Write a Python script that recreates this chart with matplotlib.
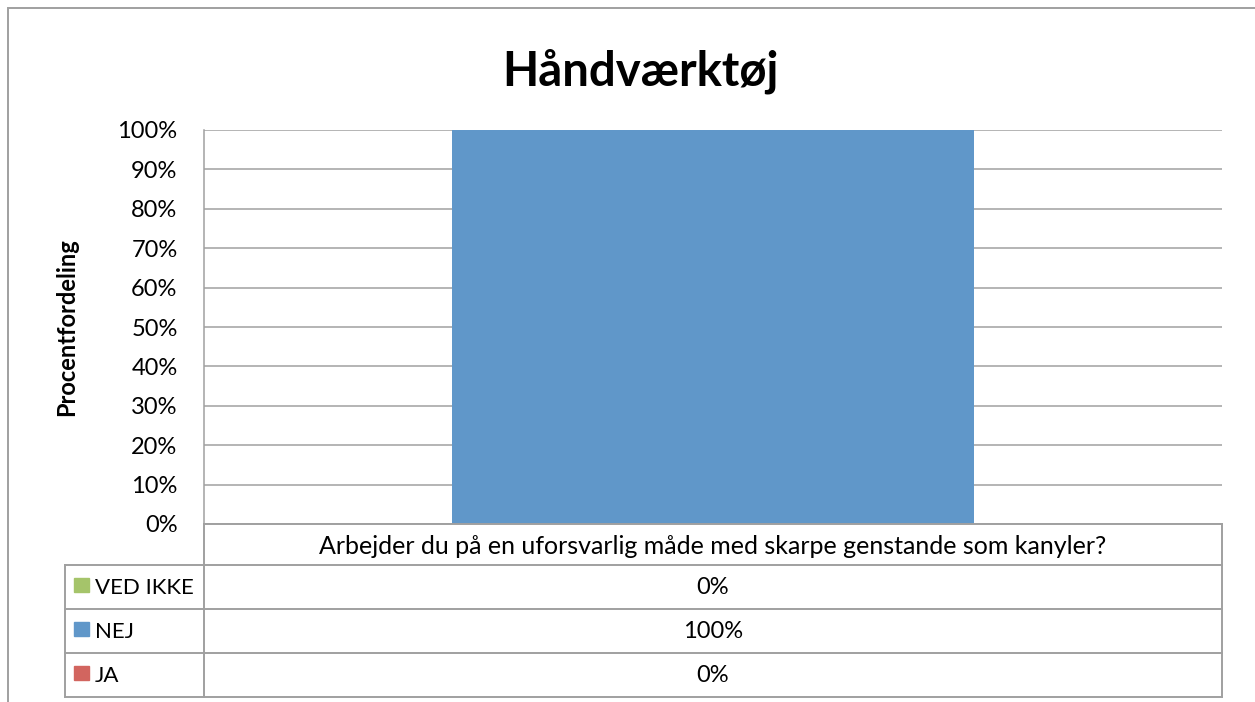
import matplotlib.pyplot as plt
from matplotlib.lines import Line2D
from matplotlib.patches import Rectangle
from matplotlib.transforms import blended_transform_factory

# data
kategorier = ["Arbejder du på en uforsvarlig måde med skarpe genstande som kanyler?"]
serier = ["VED IKKE", "NEJ", "JA"]          # raekkefoelge i tabellen (top -> bund)
vaerdier = {"VED IKKE": [0], "NEJ": [100], "JA": [0]}
farver = {"VED IKKE": "#A5C46A", "NEJ": "#6097C9", "JA": "#D2655F"}
y_ticks = [0, 10, 20, 30, 40, 50, 60, 70, 80, 90, 100]

W, H = 1255, 702
plt.rcParams['font.family'] = ['Lato', 'DejaVu Sans']
fig = plt.figure(figsize=(W / 100, H / 100), dpi=100)

def fx(x):
    return x / W

def fy(y):
    return 1 - y / H

grid_farve = "#A0A0A0"
fs = 17

# ramme om hele diagrammet
fig.patches.append(Rectangle((fx(8), fy(712)), fx(1270) - fx(8), fy(8) - fy(712),
                             transform=fig.transFigure, fill=False,
                             edgecolor=grid_farve, lw=1.4))

# plot-omraade
ax = fig.add_axes([fx(204), fy(524), fx(1222) - fx(204), fy(130) - fy(524)])
x = range(len(kategorier))
bund = [0] * len(kategorier)
for s in reversed(serier):  # JA nederst, saa NEJ, saa VED IKKE
    ax.bar(x, vaerdier[s], width=0.513, bottom=bund, color=farver[s], zorder=3)
    bund = [b + v for b, v in zip(bund, vaerdier[s])]

ax.set_xlim(-0.5, len(kategorier) - 0.5)
ax.set_ylim(0, 100)
ax.set_yticks(y_ticks)
ax.set_yticklabels([f"{t}%" for t in y_ticks], fontsize=fs)
ax.tick_params(axis='y', length=0, pad=19)
ax.set_xticks([])
ax.yaxis.grid(True, color=grid_farve, lw=1.1, zorder=0)
for side in ["top", "right", "bottom"]:
    ax.spines[side].set_visible(False)
ax.spines["left"].set_color(grid_farve)
ax.spines["left"].set_linewidth(1.1)

ax.set_ylabel("Procentfordeling", fontsize=17, fontweight="bold")
ax.yaxis.set_label_coords(-(204 - 78) / (1222 - 204), (524 - 327) / (524 - 130))

fig.text(fx(640), fy(71), "Håndværktøj", fontsize=34, fontweight="bold",
         ha="center", va="center")

# datatabel under akserne
def linje(x0, y0, x1, y1):
    fig.add_artist(Line2D([fx(x0), fx(x1)], [fy(y0), fy(y1)], transform=fig.transFigure,
                          color=grid_farve, lw=1.4))

raekke_y = [565, 609, 653, 697]
linje(204, 524, 1222, 524)
linje(204, 524, 204, 697)
linje(1222, 524, 1222, 697)
linje(65, 565, 65, 697)
for y in raekke_y:
    linje(65, y, 1222, y)

blend = blended_transform_factory(ax.transData, fig.transFigure)
for i, kat in enumerate(kategorier):
    ax.text(i, fy(546), kat, transform=blend, ha="center", va="center", fontsize=18)
    for r, s in enumerate(serier):
        ymid = (raekke_y[r] + raekke_y[r + 1]) / 2
        ax.text(i, fy(ymid + 1), f"{vaerdier[s][i]}%", transform=blend,
                ha="center", va="center", fontsize=fs)

for r, s in enumerate(serier):
    ymid = (raekke_y[r] + raekke_y[r + 1]) / 2
    fig.patches.append(Rectangle((fx(74), fy(ymid + 5)), fx(89) - fx(74), fy(ymid - 9) - fy(ymid + 5),
                                 transform=fig.transFigure, color=farver[s]))
    fig.text(fx(95), fy(ymid + 1), s, fontsize=16, ha="left", va="center")

fig.savefig("out.png", dpi=100)
